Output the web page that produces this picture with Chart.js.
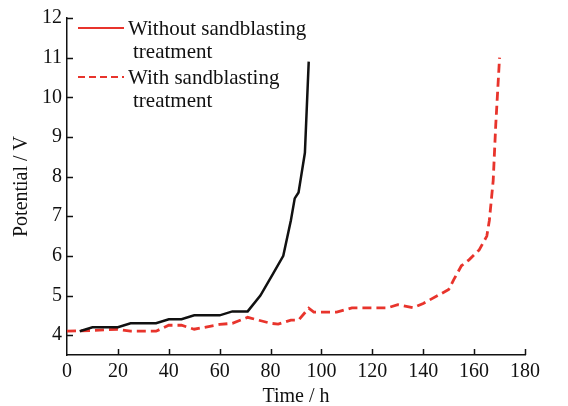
<!DOCTYPE html>
<html>
<head>
<meta charset="utf-8">
<script src="https://cdn.jsdelivr.net/npm/chart.js@4/dist/chart.umd.min.js"></script>
<style>
  html, body { margin: 0; padding: 0; background: #fff; }
  .graph { width: 568px; height: 406px; }
</style>
</head>
<body>
<div class="graph"><canvas id="myChart"></canvas></div>
<script>
// Séries
const timeWithout = [5, 10, 20, 25, 35, 40, 45, 50, 60, 65, 71, 76, 81, 85, 88, 89.5, 91, 92, 93.5, 95];
const potWithout  = [4.1, 4.2, 4.2, 4.3, 4.3, 4.4, 4.4, 4.5, 4.5, 4.6, 4.6, 5.0, 5.55, 6.0, 6.9, 7.45, 7.6, 8.0, 8.6, 10.9];

const timeWith = [0, 10, 20, 25, 35, 40, 45, 50, 60, 65, 71, 80, 83, 88, 91, 95, 97, 106, 112, 126, 130, 136, 140, 150, 152, 155, 158, 162, 165, 166, 167.5, 168.5, 170];
const potWith  = [4.1, 4.12, 4.15, 4.1, 4.1, 4.25, 4.25, 4.15, 4.27, 4.3, 4.45, 4.3, 4.28, 4.38, 4.38, 4.68, 4.58, 4.58, 4.69, 4.69, 4.77, 4.69, 4.8, 5.15, 5.4, 5.75, 5.9, 6.15, 6.5, 6.9, 7.9, 9.3, 11.0];

const xTicks = [0, 20, 40, 60, 80, 100, 120, 140, 160, 180];
const yTicks = [4, 5, 6, 7, 8, 9, 10, 11, 12];

const legendLabels = [
    ['Without sandblasting', 'treatment'],
    ['With sandblasting', 'treatment']
];

const FONT = '"Liberation Serif", "Times New Roman", serif';

function toPoints(xs, ys) {
    return xs.map((x, i) => ({ x: x, y: ys[i] }));
}

// Marcas de escala voltadas para dentro
const innerTicks = {
    id: 'innerTicks',
    afterDraw(chart) {
        const ctx = chart.ctx;
        const area = chart.chartArea;
        const xs = chart.scales.x;
        const ys = chart.scales.y;
        ctx.save();
        ctx.strokeStyle = '#111';
        ctx.lineWidth = 1.5;
        ctx.beginPath();
        xTicks.forEach(v => {
            if (v === 0) return;
            const px = Math.round(xs.getPixelForValue(v)) + 0.5;
            ctx.moveTo(px, area.bottom);
            ctx.lineTo(px, area.bottom - 6);
        });
        yTicks.forEach(v => {
            const py = Math.round(ys.getPixelForValue(v)) + 0.5;
            ctx.moveTo(area.left, py);
            ctx.lineTo(area.left + 6, py);
        });
        ctx.stroke();
        ctx.restore();
    }
};

// Legenda com rótulos de duas linhas
const twoLineLegend = {
    id: 'twoLineLegend',
    afterDraw(chart) {
        const ctx = chart.ctx;
        const area = chart.chartArea;
        const rows = [area.top + 10, area.top + 59];
        ctx.save();
        ctx.font = '21px ' + FONT;
        ctx.fillStyle = '#111';
        ctx.textBaseline = 'middle';
        legendLabels.forEach((lines, i) => {
            const y = rows[i];
            ctx.strokeStyle = '#e8342c';
            ctx.lineWidth = 2;
            ctx.setLineDash(i === 1 ? [7, 4] : []);
            ctx.beginPath();
            ctx.moveTo(area.left + 11, y);
            ctx.lineTo(area.left + 57, y);
            ctx.stroke();
            ctx.fillText(lines[0], area.left + 61, y + 1);
            ctx.fillText(lines[1], area.left + 66, y + 24);
        });
        ctx.restore();
    }
};

const ctx = document.getElementById('myChart').getContext('2d');

const graph = new Chart(ctx, {
    type: 'line',
    data: {
        datasets: [
            {
                label: 'Without sandblasting treatment',
                data: toPoints(timeWithout, potWithout),
                borderColor: '#111',
                borderWidth: 2.5,
                pointRadius: 0,
                tension: 0,
                fill: false
            },
            {
                label: 'With sandblasting treatment',
                data: toPoints(timeWith, potWith),
                borderColor: '#e8342c',
                borderWidth: 2.8,
                borderDash: [9, 5],
                pointRadius: 0,
                tension: 0,
                fill: false
            }
        ]
    },
    options: {
        responsive: true,
        maintainAspectRatio: false,
        animation: false,
        layout: {
            padding: { top: 18, right: 43, left: 0, bottom: 0 }
        },
        plugins: {
            legend: { display: false },
            tooltip: { enabled: false }
        },
        scales: {
            x: {
                type: 'linear',
                min: 0,
                max: 180,
                afterBuildTicks: (axis) => { axis.ticks = xTicks.map(v => ({ value: v })); },
                afterFit: (axis) => { axis.height = 51; },
                grid: { display: false, drawTicks: false },
                border: { display: true, color: '#111', width: 1.5 },
                ticks: {
                    color: '#111',
                    padding: 5,
                    maxRotation: 0,
                    autoSkip: false,
                    font: { family: FONT, size: 20 }
                },
                title: {
                    display: true,
                    text: 'Time / h',
                    color: '#111',
                    padding: { top: 0, bottom: 0 },
                    font: { family: FONT, size: 20, lineHeight: 0.9 }
                }
            },
            y: {
                type: 'linear',
                min: 3.5,
                max: 12,
                afterBuildTicks: (axis) => { axis.ticks = yTicks.map(v => ({ value: v })); },
                afterFit: (axis) => { axis.width = 67; },
                grid: { display: false, drawTicks: false },
                border: { display: true, color: '#111', width: 1.5 },
                ticks: {
                    color: '#111',
                    padding: 5,
                    autoSkip: false,
                    font: { family: FONT, size: 20 }
                },
                title: {
                    display: true,
                    text: 'Potential / V',
                    color: '#111',
                    padding: { top: 10, bottom: 0 },
                    font: { family: FONT, size: 20 }
                }
            }
        }
    },
    plugins: [innerTicks, twoLineLegend]
});
</script>
</body>
</html>
